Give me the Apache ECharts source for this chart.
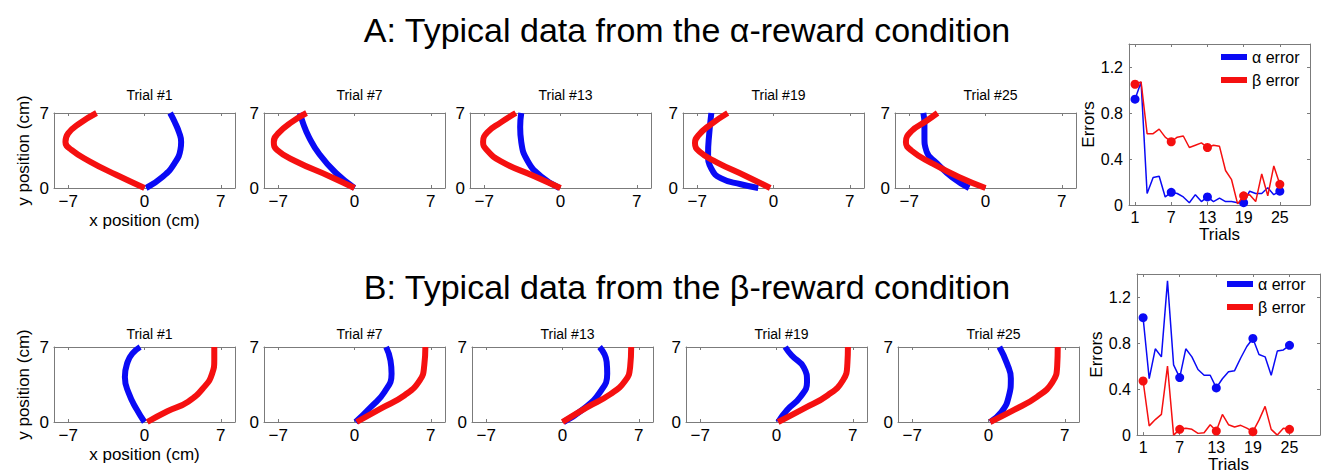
<!DOCTYPE html>
<html>
<head>
<meta charset="utf-8">
<script src="https://cdn.jsdelivr.net/npm/echarts@6/dist/echarts.min.js"></script>
<style>
  html, body { margin: 0; padding: 0; background: #fff; }
  #chart { width: 1321px; height: 474px; }
</style>
</head>
<body>
<div id="chart"></div>
<script>
// ---- data ----
const conditionTitles = ['A: Typical data from the \u03b1-reward condition', 'B: Typical data from the \u03b2-reward condition'];
const trialTitles = ['Trial #1', 'Trial #7', 'Trial #13', 'Trial #19', 'Trial #25'];
const xPosTicks = [-7, 0, 7];
const yPosTicks = [0, 7];
const trialTicks = [1, 7, 13, 19, 25];
const errorTicks = [0, 0.4, 0.8, 1.2];

// hand trajectories, [x cm, y cm], α-reward condition
const alphaRewardBlue = [
  [[0.15, 0], [1.7, 1.08], [2.75, 2.3], [3.3, 3.6], [3.36, 4.3], [3.2, 5.1], [2.75, 6.2], [2.35, 7]],
  [[0, 0], [-1.7, 1.4], [-3.25, 3.2], [-4.2, 4.8], [-4.7, 6.0], [-5.0, 7]],
  [[-0.1, 0], [-1.8, 1.1], [-3.0, 2.5], [-3.6, 4.3], [-3.7, 5.7], [-3.6, 7]],
  [[-1.4, 0], [-3.0, 0.35], [-4.8, 0.9], [-5.7, 1.8], [-6.0, 3.2], [-5.9, 5.0], [-5.7, 7]],
  [[-1.5, 0], [-3.05, 1.0], [-4.45, 2.3], [-5.4, 3.4], [-5.6, 4.8], [-5.6, 6.0], [-5.7, 7]]
];
const alphaRewardRed = [
  [[0, 0], [-2.6, 1.23], [-5.0, 2.47], [-6.7, 3.55], [-7.25, 4.3], [-7.0, 5.1], [-6.0, 6.0], [-4.4, 7]],
  [[0, 0], [-2.3, 1.1], [-5.4, 2.5], [-7.1, 3.55], [-7.4, 4.3], [-7.0, 5.1], [-5.7, 6.2], [-4.4, 7]],
  [[0, 0], [-2.4, 1.1], [-5.5, 2.5], [-6.8, 3.6], [-7.1, 4.3], [-6.7, 5.2], [-5.5, 6.1], [-4.1, 7]],
  [[-0.3, 0], [-2.5, 1.1], [-5.2, 2.4], [-6.8, 3.4], [-7.2, 4.2], [-6.9, 4.9], [-5.8, 5.9], [-4.2, 7]],
  [[0, 0], [-2.4, 1.0], [-4.9, 2.3], [-6.8, 3.5], [-7.3, 4.3], [-6.8, 5.3], [-5.5, 6.2], [-4.4, 7]]
];

// hand trajectories, [x cm, y cm], β-reward condition
const betaRewardBlue = [
  [[0, 0], [-0.7, 1.15], [-1.45, 2.7], [-1.8, 4.2], [-1.55, 5.6], [-1.1, 6.4], [-0.4, 7]],
  [[0.1, 0], [1.5, 1.4], [2.75, 2.8], [3.4, 4.5], [3.3, 5.75], [2.9, 7]],
  [[0.1, 0], [1.9, 1.2], [3.45, 2.8], [4.1, 4.5], [4.05, 5.6], [3.4, 7]],
  [[0.15, 0], [0.95, 1.1], [2.2, 2.35], [2.8, 3.75], [2.5, 5.1], [1.4, 6.2], [0.8, 7]],
  [[0.15, 0], [1.2, 0.95], [1.85, 2.35], [2.05, 4.05], [1.7, 5.45], [1.0, 7]]
];
const betaRewardRed = [
  [[0.25, 0], [2.1, 1.0], [4.0, 1.9], [5.5, 3.3], [6.2, 4.5], [6.4, 5.8], [6.4, 7]],
  [[0.2, 0], [2.4, 1.25], [4.6, 2.5], [6.0, 3.9], [6.4, 5.3], [6.5, 7]],
  [[0, 0], [2.2, 1.35], [4.4, 2.6], [5.75, 3.85], [6.2, 5.1], [6.3, 7]],
  [[0.15, 0], [2.5, 1.25], [4.7, 2.5], [6.1, 3.9], [6.5, 5.45], [6.55, 7]],
  [[0.15, 0], [2.3, 1.1], [4.45, 2.35], [5.85, 3.7], [6.3, 5.25], [6.35, 7]]
];

// errors per trial
const trials = [1, 2, 3, 4, 5, 6, 7, 8, 9, 10, 11, 12, 13, 14, 15, 16, 17, 18, 19, 20, 21, 22, 23, 24, 25];
const alphaRewardAlphaErr = [0.92, 1.07, 0.10, 0.24, 0.25, 0.07, 0.11, 0.10, 0.07, 0.02, 0.09, 0.03, 0.07,
  0.03, 0.06, 0.03, 0.03, 0.02, 0.02, 0.12, 0.10, 0.10, 0.15, 0.09, 0.12];
const alphaRewardBetaErr = [1.05, 1.07, 0.62, 0.62, 0.66, 0.59, 0.55, 0.59, 0.60, 0.50, 0.52, 0.54, 0.50,
  0.52, 0.51, 0.30, 0.22, 0.01, 0.08, 0.09, 0.03, 0.27, 0.08, 0.34, 0.18];
const betaRewardAlphaErr = [1.02, 0.49, 0.75, 0.68, 1.34, 0.61, 0.50, 0.75, 0.68, 0.57, 0.52, 0.52, 0.41,
  0.49, 0.55, 0.56, 0.67, 0.77, 0.84, 0.70, 0.68, 0.52, 0.73, 0.74, 0.78];
const betaRewardBetaErr = [0.47, 0.08, 0.135, 0.18, 0.60, 0.0, 0.05, 0.06, 0.05, 0.015, 0.02, 0.09, 0.035,
  0.18, 0.09, 0.07, 0.085, 0.06, 0.03, 0.13, 0.25, 0.05, 0.0, 0.06, 0.05];

// ---- styling / layout ----
const FONT = '"Liberation Sans", Arial, Helvetica, sans-serif';
const GREY = '#7b7b7b';
const BLUE = '#0a0af5';
const RED = '#f51010';

const rows = [
  { top: 113, lefts: [54, 264, 470, 683, 895], blue: alphaRewardBlue, red: alphaRewardRed, titleTop: 8, trialTop: 83,
    err: { left: 1129, top: 44, width: 181, height: 161, alpha: alphaRewardAlphaErr, beta: alphaRewardBetaErr,
           legendLeft: 1216, legendTop: 44, yGap: 29, xGap: 18 } },
  { top: 347, lefts: [54, 264, 472, 686, 898], blue: betaRewardBlue, red: betaRewardRed, titleTop: 265, trialTop: 322,
    err: { left: 1137, top: 274, width: 183, height: 162, alpha: betaRewardAlphaErr, beta: betaRewardBetaErr,
           legendLeft: 1222, legendTop: 271, yGap: 31, xGap: 19 } }
];
const PANEL_W = 181, PANEL_H = 75;
const X_LIM = 8.3;

const grid = [], xAxis = [], yAxis = [], series = [], title = [], legend = [];

function signed(v) { return v < 0 ? '\u2212' + Math.abs(v) : String(v); }

function boxAxes(gi, xr, yr, xTicks, yTicks, opts) {
  const line = { show: true, onZero: false, lineStyle: { color: GREY, width: 1 } };
  const tick = (vals) => ({ show: true, inside: true, length: 3, customValues: vals, lineStyle: { color: GREY, width: 1 } });
  const lbl = { color: '#000', fontFamily: FONT };
  const xi = xAxis.length, yi = yAxis.length;
  xAxis.push({
    type: 'value', gridIndex: gi, position: 'bottom', min: xr[0], max: xr[1],
    axisLine: line, axisTick: tick(xTicks), splitLine: { show: false },
    axisLabel: Object.assign({ show: true, customValues: xTicks, fontSize: opts.fontSize, margin: opts.xMargin,
      formatter: signed }, lbl),
    name: opts.xName || '', nameLocation: 'middle', nameGap: opts.xNameGap || 0,
    nameTextStyle: { fontSize: 17, color: '#000', fontFamily: FONT }
  });
  xAxis.push({
    type: 'value', gridIndex: gi, position: 'top', min: xr[0], max: xr[1],
    axisLine: line, axisTick: tick(xTicks), axisLabel: { show: false }, splitLine: { show: false }
  });
  yAxis.push({
    type: 'value', gridIndex: gi, position: 'left', min: yr[0], max: yr[1],
    axisLine: line, axisTick: tick(yTicks), splitLine: { show: false },
    axisLabel: Object.assign({ show: true, customValues: yTicks, fontSize: opts.fontSize, margin: opts.yMargin,
      formatter: opts.yFormat || signed }, lbl),
    name: opts.yName || '', nameLocation: 'middle', nameGap: opts.yNameGap || 0, nameRotate: 90,
    nameTextStyle: { fontSize: 17, color: '#000', fontFamily: FONT }
  });
  yAxis.push({
    type: 'value', gridIndex: gi, position: 'right', min: yr[0], max: yr[1],
    axisLine: line, axisTick: tick(yTicks), axisLabel: { show: false }, splitLine: { show: false }
  });
  return { xi, yi };
}

rows.forEach((row, r) => {
  title.push({
    text: conditionTitles[r], left: 682, top: row.titleTop, textAlign: 'center',
    textStyle: { fontSize: 34, fontWeight: 'normal', color: '#000', fontFamily: FONT }
  });

  // trajectory panels
  row.lefts.forEach((left, p) => {
    const gi = grid.length;
    grid.push({ left: left, top: row.top, width: PANEL_W, height: PANEL_H, containLabel: false });
    const first = p === 0;
    const ax = boxAxes(gi, [-X_LIM, X_LIM], [0, 7], xPosTicks, yPosTicks, {
      fontSize: 17, xMargin: 5, yMargin: 5,
      xName: first ? 'x position (cm)' : '', xNameGap: 24,
      yName: first ? 'y position (cm)' : '', yNameGap: 22
    });
    title.push({
      text: trialTitles[p], left: left + PANEL_W / 2, top: row.trialTop, textAlign: 'center',
      textStyle: { fontSize: 14, fontWeight: 'normal', color: '#000', fontFamily: FONT }
    });
    [[row.blue[p], BLUE], [row.red[p], RED]].forEach(([pts, color], k) => {
      series.push({
        type: 'line', xAxisIndex: ax.xi, yAxisIndex: ax.yi, data: pts,
        smooth: 0.5, symbol: 'none', showSymbol: false, silent: true, z: 2 + k,
        lineStyle: { color: color, width: 6, cap: 'butt', join: 'round' }
      });
    });
  });

  // error panel
  const e = row.err;
  const gi = grid.length;
  grid.push({ left: e.left, top: e.top, width: e.width, height: e.height, containLabel: false });
  const ax = boxAxes(gi, [0, 30], [0, 1.4], trialTicks, errorTicks, {
    fontSize: 16, xMargin: 4, yMargin: 6,
    yFormat: (v) => (v === 0 ? '0' : v.toFixed(1)),
    xName: 'Trials', xNameGap: e.xGap, yName: 'Errors', yNameGap: e.yGap
  });
  [['\u03b1 error', e.alpha, BLUE], ['\u03b2 error', e.beta, RED]].forEach(([name, vals, color], k) => {
    series.push({
      type: 'line', name: name, xAxisIndex: ax.xi, yAxisIndex: ax.yi,
      data: trials.map((t, i) => [t, vals[i]]),
      symbol: 'circle', showSymbol: true, silent: true, z: 2 + k,
      symbolSize: (v) => (trialTicks.indexOf(v[0]) >= 0 ? 9 : 0),
      itemStyle: { color: color, borderWidth: 0 },
      lineStyle: { color: color, width: 1.5 }
    });
  });
  legend.push({
    data: ['\u03b1 error', '\u03b2 error'], orient: 'vertical', left: e.legendLeft, top: e.legendTop,
    icon: 'rect', itemWidth: 26, itemHeight: 6, itemGap: 7, selectedMode: false,
    textStyle: { fontSize: 16, color: '#000', fontFamily: FONT }
  });
});

const chart = echarts.init(document.getElementById('chart'), null, { renderer: 'svg' });
chart.setOption({
  backgroundColor: '#fff',
  animation: false,
  title: title,
  legend: legend,
  grid: grid,
  xAxis: xAxis,
  yAxis: yAxis,
  series: series
});
</script>
</body>
</html>
